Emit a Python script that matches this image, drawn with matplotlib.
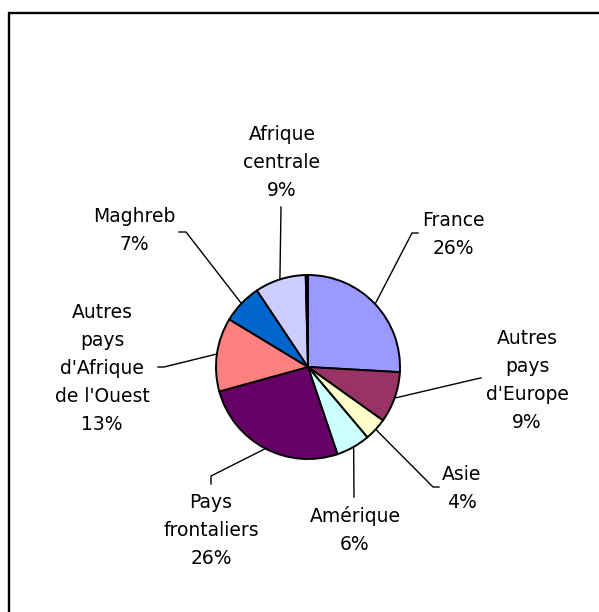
import numpy as np
import matplotlib
matplotlib.use("Agg")
import matplotlib.pyplot as plt
from matplotlib.patches import Rectangle

# ---------------- données ----------------
regions = ["France", "Autres\npays\nd'Europe", "Asie", "Amérique", "Pays\nfrontaliers",
           "Autres\npays\nd'Afrique\nde l'Ouest", "Maghreb", "Afrique\ncentrale", ""]
parts = [26, 9, 4, 6, 26, 13, 7, 9, 0.4]   # dernière tranche : très petite, sans étiquette
pct_labels = ["26%", "9%", "4%", "6%", "26%", "13%", "7%", "9%", ""]
couleurs = ["#9999FF", "#993366", "#FFFFCC", "#CCFFFF", "#660066",
            "#FF8080", "#0066CC", "#CCCCFF", "#000080"]

# ---------------- mise en page (pixels, origine en haut à gauche) ----------------
W, H = 599, 612
cx, cy, R = 308, 367, 92
# centre du texte, point de départ du trait, coude
pos_texte = [(453, 234), (527, 380), (462, 488), (355, 530), (211, 530),
             (102, 368), (134, 231), (282, 163)]
trait = [[(418, 233), (412, 233)], [(481, 378), (476, 379)], [(439, 487), (433, 487)],
         [(354, 497), (354, 497)], [(211, 484), (211, 476)], [(158, 367), (164, 367)],
         [(179, 232), (186, 232)], [(281, 207), (281, 207)]]

fig = plt.figure(figsize=(W / 100, H / 100), dpi=100)
ax = fig.add_axes([0, 0, 1, 1])

# cadre (seuls les bords haut et gauche sont visibles)
ax.add_patch(Rectangle((8.5, -20), W + 40, H - 12.5 + 20, fill=False, lw=1.7, ec="black"))

wedges, _ = ax.pie(parts, colors=couleurs, startangle=90, counterclock=False,
                   center=(cx, H - cy), radius=R, frame=True,
                   wedgeprops=dict(edgecolor="black", linewidth=1.4))
ax.set_xlim(0, W)
ax.set_ylim(0, H)
ax.set_aspect("equal")
ax.axis("off")

for i, w in enumerate(wedges[:8]):
    ang = np.deg2rad((w.theta1 + w.theta2) / 2)
    px = cx + (R + 1) * np.cos(ang)
    py = (H - cy) + (R + 1) * np.sin(ang)
    (x0, y0), (x1, y1) = trait[i]
    ax.plot([x0, x1, px], [H - y0, H - y1, py], color="black", lw=1.0)
    tx, ty = pos_texte[i]
    ax.text(tx, H - ty, regions[i] + "\n" + pct_labels[i], ha="center", va="center",
            fontsize=13.5, family="DejaVu Sans", linespacing=1.6, color="black")

fig.savefig("out.png", dpi=100, facecolor="white")
